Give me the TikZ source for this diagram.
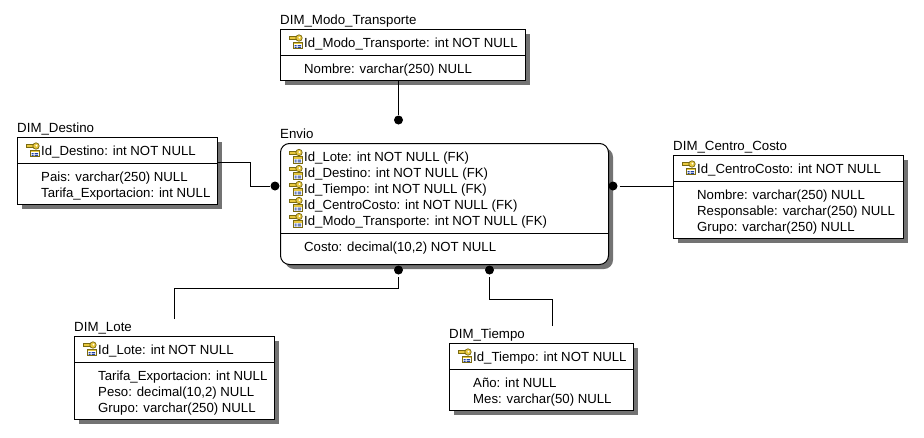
\documentclass[tikz,border=0pt]{standalone}
\usepackage{fontspec}
\setmainfont{Liberation Sans}
\usetikzlibrary{positioning,shadows}
\definecolor{keyyellow}{HTML}{E8C840}
\definecolor{keybrown}{HTML}{7A6A10}
\definecolor{tableblue}{HTML}{2040A0}
\tikzset{
  entity/.style={draw, line width=1pt, fill=white, inner sep=0pt, outer sep=0pt, anchor=north west,
    general shadow={shadow xshift=4.5pt, shadow yshift=-4.5pt, fill=black!55}},
  title/.style={anchor=base west, inner sep=0pt, font=\fontsize{13.3}{13.3}\selectfont},
  attrs/.style={anchor=north west, inner sep=0pt, align=left,
    font=\fontsize{13.2}{16}\selectfont},
  dot/.style={circle, fill=black, inner sep=0pt, minimum size=9pt},
  dotgap/.style={dot, outer sep=2pt},
  link/.style={line width=1pt},
  keyicon/.pic={
    \fill[keyyellow, draw=keybrown, line width=.7pt] (-7,-5.5) rectangle (0,-2.5);
    \fill[keyyellow, draw=keybrown, line width=.7pt] (3,-4) circle[radius=3.2];
    \fill[white] (3.4,-4.4) circle[radius=1];
    \fill[white, draw=keybrown, line width=.7pt] (-3,0) rectangle (6.5,6.5);
    \fill[keyyellow] (-2.5,.5) rectangle (6,2);
    \fill[tableblue] (-1.5,3) rectangle (.5,4) (1.5,3) rectangle (5,4)
      (-1.5,4.8) rectangle (.5,5.8) (1.5,4.8) rectangle (5,5.8);
  }
}
\begin{document}
\begin{tikzpicture}[x=1pt, y=-1pt]
  \useasboundingbox (0,0) rectangle (924,437);

  % boxes
  \node[entity, minimum width=245pt, minimum height=51pt] (modo) at (280.5,29.5) {};
  \node[entity, minimum width=200pt, minimum height=67pt] (destino) at (17.5,137.5) {};
  \node[entity, rounded corners=9pt, minimum width=328pt, minimum height=121pt] (envio) at (280.5,143.5) {};
  \node[entity, minimum width=230pt, minimum height=83pt] (centro) at (673.5,155.5) {};
  \node[entity, minimum width=200pt, minimum height=83pt] (lote) at (74.5,336.5) {};
  \node[entity, minimum width=184pt, minimum height=67pt] (tiempo) at (449.5,343.5) {};

  % titles
  \node[title] (tModo) at (280,24) {DIM\_Modo\_Transporte};
  \node[title] (tDestino) at (17,132) {DIM\_Destino};
  \node[title] (tEnvio) at (280,138) {Envio};
  \node[title] (tCentro) at (673,150) {DIM\_Centro\_Costo};
  \node[title] (tLote) at (74,331) {DIM\_Lote};
  \node[title] (tTiempo) at (449,338) {DIM\_Tiempo};

  % dividers
  \draw[link] (modo.west |- 0,55.5) -- (modo.east |- 0,55.5);
  \draw[link] (destino.west |- 0,163.5) -- (destino.east |- 0,163.5);
  \draw[link] (envio.west |- 0,233.5) -- (envio.east |- 0,233.5);
  \draw[link] (centro.west |- 0,181.5) -- (centro.east |- 0,181.5);
  \draw[link] (lote.west |- 0,362.5) -- (lote.east |- 0,362.5);
  \draw[link] (tiempo.west |- 0,369.5) -- (tiempo.east |- 0,369.5);

  % keys
  \foreach \kx/\ky in {296/42, 33/150, 296/156.5, 296/172.5, 296/188.5, 296/204.5, 296/220.5, 689/168, 90/349, 465/356}
    \pic at (\kx,\ky) {keyicon};

  % attributes
  \node[attrs] (kModo) at (304,37.5) {Id\_Modo\_Transporte: int NOT NULL};
  \node[attrs] (aModo) at (304,63.5) {Nombre: varchar(250) NULL};
  \node[attrs] (kDestino) at (41,145.5) {Id\_Destino: int NOT NULL};
  \node[attrs] (aDestino) at (41,171.5) {Pais: varchar(250) NULL\\Tarifa\_Exportacion: int NULL};
  \node[attrs] (kEnvio) at (304,152) {Id\_Lote: int NOT NULL (FK)\\Id\_Destino: int NOT NULL (FK)\\Id\_Tiempo: int NOT NULL (FK)\\Id\_CentroCosto: int NOT NULL (FK)\\Id\_Modo\_Transporte: int NOT NULL (FK)};
  \node[attrs] (aEnvio) at (304,241.5) {Costo: decimal(10,2) NOT NULL};
  \node[attrs] (kCentro) at (697,163.5) {Id\_CentroCosto: int NOT NULL};
  \node[attrs] (aCentro) at (697,189.5) {Nombre: varchar(250) NULL\\Responsable: varchar(250) NULL\\Grupo: varchar(250) NULL};
  \node[attrs] (kLote) at (98,344.5) {Id\_Lote: int NOT NULL};
  \node[attrs] (aLote) at (98,370.5) {Tarifa\_Exportacion: int NULL\\Peso: decimal(10,2) NULL\\Grupo: varchar(250) NULL};
  \node[attrs] (kTiempo) at (473,351.5) {Id\_Tiempo: int NOT NULL};
  \node[attrs] (aTiempo) at (473,377.5) {Año: int NULL\\Mes: varchar(50) NULL};

  % links
  \node[dot] (dotModo) at (398.5,120) {};
  \node[dot] (dotDestino) at (275,186) {};
  \node[dotgap] (dotCentro) at (613,186) {};
  \node[dotgap] (dotLote) at (398.5,270) {};
  \node[dotgap] (dotTiempo) at (489.5,270) {};
  \coordinate (endDestino) at (217.5,162.5);
  \coordinate (endLote) at (174.5,319);
  \coordinate (endTiempo) at (552.5,326);

  \draw[link] (modo.south -| dotModo) -- (dotModo);
  \draw[link] (endDestino) -- ++(33,0) |- (dotDestino);
  \draw[link] (dotCentro) -- (dotCentro -| centro.west);
  \draw[link] (endLote) -- ++(0,-30.5) -| (dotLote);
  \draw[link] (endTiempo) -- ++(0,-26.5) -| (dotTiempo);
\end{tikzpicture}
\end{document}
